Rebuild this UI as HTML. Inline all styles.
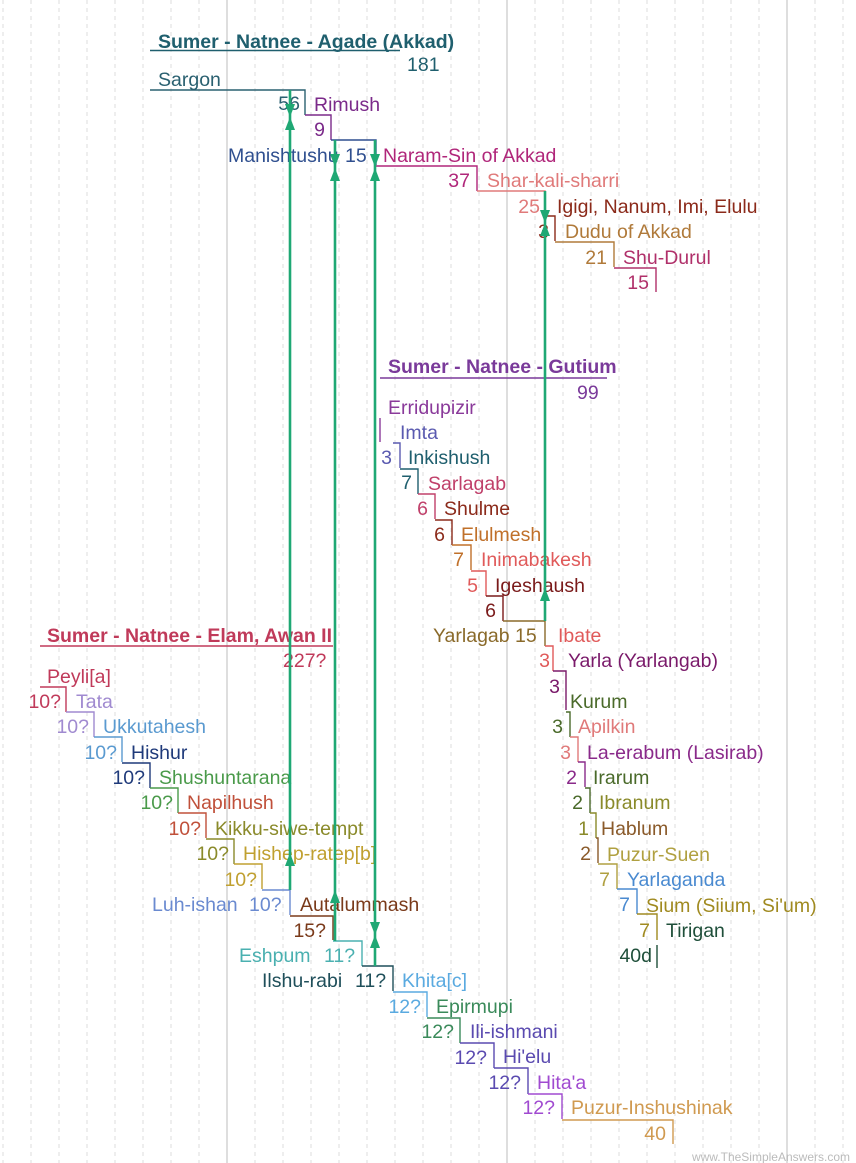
<!DOCTYPE html>
<html><head><meta charset="utf-8"><style>
html,body{margin:0;padding:0;background:#fff}
svg{display:block;font-family:"Liberation Sans",sans-serif;font-size:19.5px}
.g{stroke:#ddd;stroke-dasharray:4,4;stroke-width:1}
.s{stroke:#ccc;stroke-width:1.3}
.e{text-anchor:end}
polyline{fill:none;stroke-width:1.4}
.gr{stroke:#1fa874;stroke-width:2.6}
.ar{fill:#1fa874}
</style></head><body>
<svg width="856" height="1163" viewBox="0 0 856 1163">
<g>
<line class="g" x1="3" y1="0" x2="3" y2="1163"/><line class="g" x1="31" y1="0" x2="31" y2="1163"/><line class="g" x1="59" y1="0" x2="59" y2="1163"/><line class="g" x1="87" y1="0" x2="87" y2="1163"/><line class="g" x1="115" y1="0" x2="115" y2="1163"/><line class="g" x1="143" y1="0" x2="143" y2="1163"/><line class="g" x1="171" y1="0" x2="171" y2="1163"/><line class="g" x1="199" y1="0" x2="199" y2="1163"/>
<line class="g" x1="255" y1="0" x2="255" y2="1163"/><line class="g" x1="283" y1="0" x2="283" y2="1163"/><line class="g" x1="311" y1="0" x2="311" y2="1163"/><line class="g" x1="339" y1="0" x2="339" y2="1163"/><line class="g" x1="367" y1="0" x2="367" y2="1163"/><line class="g" x1="395" y1="0" x2="395" y2="1163"/><line class="g" x1="423" y1="0" x2="423" y2="1163"/><line class="g" x1="451" y1="0" x2="451" y2="1163"/><line class="g" x1="479" y1="0" x2="479" y2="1163"/>
<line class="g" x1="535" y1="0" x2="535" y2="1163"/><line class="g" x1="563" y1="0" x2="563" y2="1163"/><line class="g" x1="591" y1="0" x2="591" y2="1163"/><line class="g" x1="619" y1="0" x2="619" y2="1163"/><line class="g" x1="647" y1="0" x2="647" y2="1163"/><line class="g" x1="675" y1="0" x2="675" y2="1163"/><line class="g" x1="703" y1="0" x2="703" y2="1163"/><line class="g" x1="731" y1="0" x2="731" y2="1163"/><line class="g" x1="759" y1="0" x2="759" y2="1163"/>
<line class="g" x1="815" y1="0" x2="815" y2="1163"/><line class="g" x1="843" y1="0" x2="843" y2="1163"/>
<line class="s" x1="227" y1="0" x2="227" y2="1163"/><line class="s" x1="507" y1="0" x2="507" y2="1163"/><line class="s" x1="787" y1="0" x2="787" y2="1163"/>
</g>

<!-- Akkad -->
<text x="158" y="48" fill="#1f5f6e" font-weight="bold">Sumer - Natnee - Agade (Akkad)</text>
<line x1="150" y1="50.5" x2="400" y2="50.5" stroke="#1f5f6e" stroke-width="1.5"/>
<text x="407" y="71" fill="#1f5f6e">181</text>
<text x="158" y="86" fill="#2a6070">Sargon</text>
<polyline stroke="#2a6070" points="150,90 305,90 305,115"/><text class="e" x="300" y="110" fill="#2a6070">56</text>
<text x="314" y="111" fill="#7b2a8a">Rimush</text>
<polyline stroke="#7b2a8a" points="305,115 331,115 331,140"/><text class="e" x="325" y="136" fill="#7b2a8a">9</text>
<text x="228" y="162" fill="#2f4f8f">Manishtushu</text><text x="345" y="162" fill="#2f4f8f">15</text>
<polyline stroke="#2f4f8f" points="331,140 376,140 376,165"/>
<text x="383" y="162" fill="#b0267a">Naram-Sin of Akkad</text>
<polyline stroke="#b0267a" points="376,166 477,166 477,191"/><text class="e" x="470" y="187" fill="#b0267a">37</text>
<text x="487" y="187" fill="#e07a7a">Shar-kali-sharri</text>
<polyline stroke="#e07a7a" points="477,191 545,191 545,216"/><text class="e" x="540" y="213" fill="#e07a7a">25</text>
<text x="557" y="213" fill="#8b2a1a">Igigi, Nanum, Imi, Elulu</text>
<polyline stroke="#8b2a1a" points="545,216 555,216 555,241"/><text class="e" x="549" y="238" fill="#8b2a1a">3</text>
<text x="565" y="238" fill="#b07a3a">Dudu of Akkad</text>
<polyline stroke="#b07a3a" points="555,242 614,242 614,267"/><text class="e" x="607" y="264" fill="#b07a3a">21</text>
<text x="623" y="264" fill="#b0306a">Shu-Durul</text>
<polyline stroke="#b0306a" points="614,268 656,268 656,292"/><text class="e" x="649" y="289" fill="#b0306a">15</text>

<!-- Gutium -->
<text x="388" y="373" fill="#7a3a9a" font-weight="bold">Sumer - Natnee - Gutium</text>
<line x1="380" y1="378" x2="607" y2="378" stroke="#7a3a9a" stroke-width="1.5"/>
<text x="577" y="399" fill="#7a3a9a">99</text>
<text x="388" y="414" fill="#8a3a9a">Erridupizir</text>
<polyline stroke="#8a3a9a" points="380,418 380,442"/>
<text x="400" y="439" fill="#5a5ab0">Imta</text>
<polyline stroke="#5a5ab0" points="393,443 400,443 400,468"/><text class="e" x="392" y="464" fill="#5a5ab0">3</text>
<text x="408" y="464" fill="#1f5f6e">Inkishush</text>
<polyline stroke="#1f5f6e" points="400,469 418,469 418,494"/><text class="e" x="412" y="489" fill="#1f5f6e">7</text>
<text x="428" y="490" fill="#c0406a">Sarlagab</text>
<polyline stroke="#c0406a" points="418,494 435,494 435,519"/><text class="e" x="428" y="515" fill="#c0406a">6</text>
<text x="444" y="515" fill="#8b2a1a">Shulme</text>
<polyline stroke="#8b2a1a" points="435,520 452,520 452,545"/><text class="e" x="445" y="541" fill="#8b2a1a">6</text>
<text x="461" y="541" fill="#c0702a">Elulmesh</text>
<polyline stroke="#c0702a" points="452,545 471,545 471,570"/><text class="e" x="464" y="566" fill="#c0702a">7</text>
<text x="481" y="566" fill="#e05a5a">Inimabakesh</text>
<polyline stroke="#e05a5a" points="471,571 486,571 486,596"/><text class="e" x="478" y="592" fill="#e05a5a">5</text>
<text x="495" y="592" fill="#7a1a1a">Igeshaush</text>
<polyline stroke="#7a1a1a" points="486,596 503,596 503,621"/><text class="e" x="496" y="617" fill="#7a1a1a">6</text>
<text x="433" y="642" fill="#8a6a2a">Yarlagab 15</text>
<polyline stroke="#8a6a2a" points="503,621 545,621 545,646"/>
<text x="558" y="642" fill="#e05a5a">Ibate</text>
<polyline stroke="#e05a5a" points="545,646 553,646 553,671"/><text class="e" x="550" y="667" fill="#e05a5a">3</text>
<text x="568" y="667" fill="#7a1a6a">Yarla (Yarlangab)</text>
<polyline stroke="#7a1a6a" points="553,671 566,671 566,710"/><text class="e" x="560" y="693" fill="#7a1a6a">3</text>
<text x="570" y="708" fill="#4a6a2a">Kurum</text>
<polyline stroke="#4a6a2a" points="566,712 570,712 570,737"/><text class="e" x="563" y="733" fill="#4a6a2a">3</text>
<text x="578" y="733" fill="#e07a7a">Apilkin</text>
<polyline stroke="#e07a7a" points="570,737 578,737 578,762"/><text class="e" x="571" y="759" fill="#e07a7a">3</text>
<text x="587" y="759" fill="#8a2a8a">La-erabum (Lasirab)</text>
<polyline stroke="#8a2a8a" points="578,762 585,762 585,787"/><text class="e" x="577" y="784" fill="#8a2a8a">2</text>
<text x="593" y="784" fill="#4a6a2a">Irarum</text>
<polyline stroke="#4a6a2a" points="585,788 590,788 590,813"/><text class="e" x="583" y="809" fill="#4a6a2a">2</text>
<text x="599" y="809" fill="#8a8a2a">Ibranum</text>
<polyline stroke="#8a8a2a" points="590,813 596,813 596,838"/><text class="e" x="589" y="835" fill="#8a8a2a">1</text>
<text x="601" y="835" fill="#8a5a2a">Hablum</text>
<polyline stroke="#8a5a2a" points="596,838 598,838 598,863"/><text class="e" x="591" y="860" fill="#8a5a2a">2</text>
<text x="607" y="861" fill="#b0a040">Puzur-Suen</text>
<polyline stroke="#b0a040" points="598,864 617,864 617,889"/><text class="e" x="610" y="886" fill="#b0a040">7</text>
<text x="627" y="886" fill="#4a8ad0">Yarlaganda</text>
<polyline stroke="#4a8ad0" points="617,889 637,889 637,914"/><text class="e" x="630" y="911" fill="#4a8ad0">7</text>
<text x="646" y="912" fill="#a08a20">Sium (Siium, Si'um)</text>
<polyline stroke="#a08a20" points="637,914 657,914 657,940"/><text class="e" x="650" y="937" fill="#a08a20">7</text>
<text x="666" y="937" fill="#1f4f3a">Tirigan</text>
<polyline stroke="#1f4f3a" points="657,945 657,968"/><text class="e" x="652" y="962" fill="#1f4f3a">40d</text>

<!-- Elam -->
<text x="47" y="642" fill="#c03a5a" font-weight="bold">Sumer - Natnee - Elam, Awan II</text>
<line x1="40" y1="646" x2="333" y2="646" stroke="#c03a5a" stroke-width="1.5"/>
<text x="283" y="667" fill="#c03a5a">227?</text>
<text x="47" y="683" fill="#c03a5a">Peyli[a]</text>
<polyline stroke="#c03a5a" points="40,687 66,687 66,712"/><text class="e" x="61" y="708" fill="#c03a5a">10?</text>
<text x="76" y="708" fill="#a08ad0">Tata</text>
<polyline stroke="#a08ad0" points="66,712 94,712 94,737"/><text class="e" x="89" y="733" fill="#a08ad0">10?</text>
<text x="103" y="733" fill="#5a9ad0">Ukkutahesh</text>
<polyline stroke="#5a9ad0" points="94,737 122,737 122,762"/><text class="e" x="117" y="759" fill="#5a9ad0">10?</text>
<text x="131" y="759" fill="#1f3a7a">Hishur</text>
<polyline stroke="#1f3a7a" points="122,763 150,763 150,788"/><text class="e" x="145" y="784" fill="#1f3a7a">10?</text>
<text x="159" y="784" fill="#4a9a4a">Shushuntarana</text>
<polyline stroke="#4a9a4a" points="150,788 178,788 178,813"/><text class="e" x="173" y="809" fill="#4a9a4a">10?</text>
<text x="187" y="809" fill="#c0503a">Napilhush</text>
<polyline stroke="#c0503a" points="178,813 206,813 206,838"/><text class="e" x="201" y="835" fill="#c0503a">10?</text>
<text x="215" y="835" fill="#8a8a2a">Kikku-siwe-tempt</text>
<polyline stroke="#8a8a2a" points="206,839 234,839 234,864"/><text class="e" x="229" y="860" fill="#8a8a2a">10?</text>
<text x="243" y="860" fill="#c0a030">Hishep-ratep[b]</text>
<polyline stroke="#c0a030" points="234,864 262,864 262,889"/><text class="e" x="257" y="886" fill="#c0a030">10?</text>
<text x="152" y="911" fill="#6a8ad0">Luh-ishan</text><text x="249" y="911" fill="#6a8ad0">10?</text>
<polyline stroke="#6a8ad0" points="262,890 290,890 290,915"/>
<text x="300" y="911" fill="#7a3a1a">Autalummash</text>
<polyline stroke="#7a3a1a" points="290,916 333,916 333,940"/><text class="e" x="326" y="937" fill="#7a3a1a">15?</text>
<text x="239" y="962" fill="#4ab0b0">Eshpum</text><text x="324" y="962" fill="#4ab0b0">11?</text>
<polyline stroke="#4ab0b0" points="333,941 362,941 362,966"/>
<text x="262" y="987" fill="#1f4f5a">Ilshu-rabi</text><text x="355" y="987" fill="#1f4f5a">11?</text>
<polyline stroke="#1f4f5a" points="362,966 393,966 393,991"/>
<text x="402" y="987" fill="#5aaae0">Khita[c]</text>
<polyline stroke="#5aaae0" points="393,992 427,992 427,1017"/><text class="e" x="421" y="1013" fill="#5aaae0">12?</text>
<text x="436" y="1013" fill="#3a8a5a">Epirmupi</text>
<polyline stroke="#3a8a5a" points="427,1018 460,1018 460,1043"/><text class="e" x="454" y="1038" fill="#3a8a5a">12?</text>
<text x="470" y="1038" fill="#5a4ab0">Ili-ishmani</text>
<polyline stroke="#5a4ab0" points="460,1043 494,1043 494,1068"/><text class="e" x="487" y="1064" fill="#5a4ab0">12?</text>
<text x="503" y="1063" fill="#5a4ab0">Hi'elu</text>
<polyline stroke="#5a4ab0" points="494,1068 528,1068 528,1094"/><text class="e" x="521" y="1089" fill="#5a4ab0">12?</text>
<text x="537" y="1089" fill="#a04ad0">Hita'a</text>
<polyline stroke="#a04ad0" points="528,1094 562,1094 562,1119"/><text class="e" x="555" y="1114" fill="#a04ad0">12?</text>
<text x="571" y="1114" fill="#d09a50">Puzur-Inshushinak</text>
<polyline stroke="#d09a50" points="562,1120 673,1120 673,1144"/><text class="e" x="666" y="1140" fill="#d09a50">40</text>

<!-- green links -->
<line class="gr" x1="290" y1="90" x2="290" y2="890"/>
<line class="gr" x1="335" y1="140" x2="335" y2="941"/>
<line class="gr" x1="375" y1="140" x2="375" y2="966"/>
<line class="gr" x1="545" y1="191" x2="545" y2="621"/>
<g class="ar">
<polygon points="285,104 295,104 290,117"/><polygon points="285,130 295,130 290,117"/>
<polygon points="285,866 295,866 290,853"/>
<polygon points="330,154 340,154 335,167"/><polygon points="330,181 340,181 335,168"/>
<polygon points="330,903 340,903 335,890"/>
<polygon points="370,154 380,154 375,167"/><polygon points="370,181 380,181 375,168"/>
<polygon points="370,922 380,922 375,935"/><polygon points="370,948 380,948 375,935"/>
<polygon points="540,210 550,210 545,223"/><polygon points="540,236 550,236 545,223"/>
<polygon points="540,601 550,601 545,588"/>
</g>
<text x="850" y="1161" text-anchor="end" fill="#bbb" font-size="12">www.TheSimpleAnswers.com</text>
</svg>
</body></html>
